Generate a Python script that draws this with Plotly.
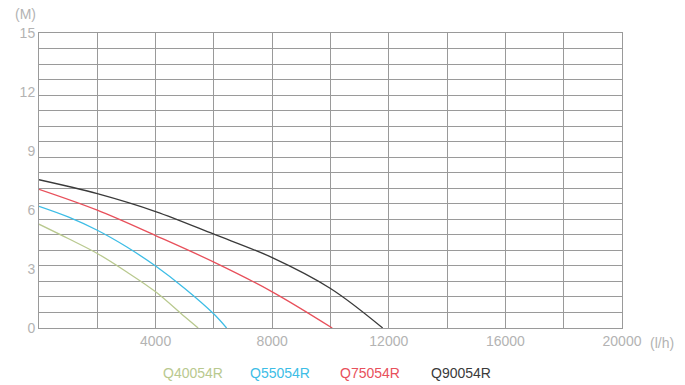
import plotly.graph_objects as go

# Curvas de desempenho (vazão l/h x altura m)
models = ['Q40054R', 'Q55054R', 'Q75054R', 'Q90054R']
colors = ['#b9c98f', '#3dbde6', '#e8505b', '#3a3a3a']

q40_x = [0, 1000, 2000, 3000, 4000, 5000, 5460]
q40_y = [5.28, 4.55, 3.79, 2.86, 1.84, 0.57, 0]
q55_x = [0, 1000, 2000, 3000, 4000, 5000, 6000, 6435]
q55_y = [6.19, 5.65, 4.97, 4.13, 3.15, 2.01, 0.71, 0]
q75_x = [0, 2000, 4000, 6000, 8000, 10060]
q75_y = [7.05, 5.99, 4.70, 3.35, 1.84, 0]
q90_x = [0, 2000, 4000, 6000, 8000, 10000, 11790]
q90_y = [7.54, 6.83, 5.92, 4.77, 3.58, 2.01, 0]

series_x = [q40_x, q55_x, q75_x, q90_x]
series_y = [q40_y, q55_y, q75_y, q90_y]

x_grid = list(range(0, 20001, 2000))
x_labels = ['' if v % 4000 or v == 0 else str(v) for v in x_grid]
y_ticks = [0, 3, 6, 9, 12, 15]
y_rows = 19

fig = go.Figure()
for nome, cor, xs, ys in zip(models, colors, series_x, series_y):
    fig.add_trace(go.Scatter(x=xs, y=ys, mode='lines', name=nome,
                             line=dict(color=cor, width=1.3, shape='spline', smoothing=1)))

grid_color = '#9a9a9a'
label_font = dict(family='Liberation Sans, Arial', size=14, color='#b3b3b3')

fig.update_layout(
    width=685, height=385,
    margin=dict(l=39, r=63, t=33, b=57),
    paper_bgcolor='white', plot_bgcolor='white',
    showlegend=False,
    xaxis=dict(range=[0, 20000], tickvals=x_grid, ticktext=x_labels,
               showgrid=True, gridcolor=grid_color, gridwidth=1,
               showline=True, linecolor=grid_color, mirror=True,
               zeroline=False, ticks='', tickfont=label_font),
    yaxis=dict(range=[0, 15], tickvals=y_ticks, showgrid=False,
               showline=True, linecolor=grid_color, mirror=True,
               zeroline=False, ticks='', tickfont=label_font,
               minor=dict(tick0=0, dtick=15 / y_rows, showgrid=True,
                          gridcolor=grid_color, gridwidth=1)),
)

fig.add_annotation(text='(M)', xref='paper', yref='paper', x=-0.045, y=1.064,
                   xanchor='left', yanchor='middle', showarrow=False, font=label_font)
fig.add_annotation(text='(l/h)', xref='paper', yref='paper', x=1.044, y=-0.051,
                   xanchor='left', yanchor='middle', showarrow=False, font=label_font)

legend_pos = [0.265, 0.414, 0.567, 0.724]
for nome, cor, px in zip(models, colors, legend_pos):
    fig.add_annotation(text=nome, xref='paper', yref='paper', x=px, y=-0.153,
                       xanchor='center', yanchor='middle', showarrow=False,
                       font=dict(family='Liberation Sans, Arial', size=14, color=cor))

fig.write_html('out.html', config={'displayModeBar': False},
               post_script="document.body.style.margin='0';")
